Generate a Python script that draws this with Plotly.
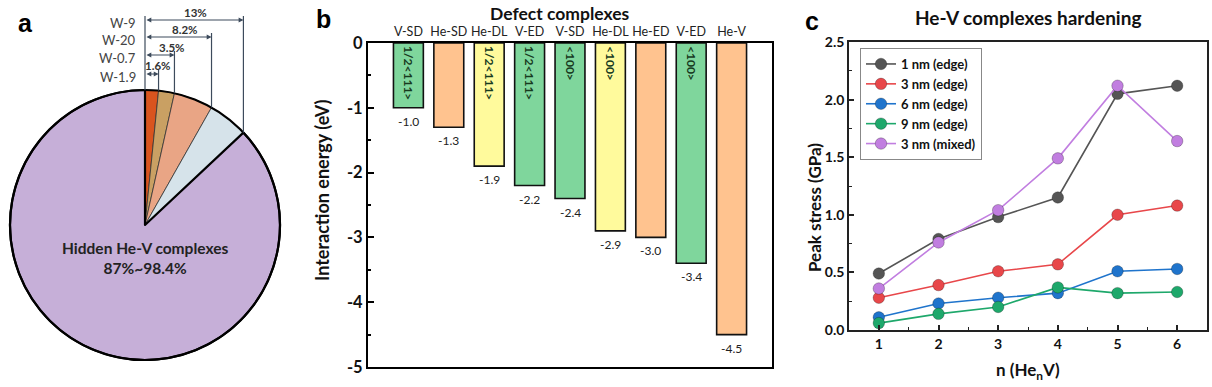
import math
import plotly.graph_objects as go

# ---------------- DATA ----------------
# panel a
samples = ["W-1.9", "W-0.7", "W-20", "W-9"]
cum_pct = [1.6, 3.5, 8.2, 13.0]
cum_labels = ["1.6%", "3.5%", "8.2%", "13%"]
hidden_label = "Hidden He-V complexes"
hidden_range = "87%~98.4%"

# panel b
complexes = ["V-SD", "He-SD", "He-DL", "V-ED", "V-SD", "He-DL", "He-ED", "V-ED", "He-V"]
energies = [-1.0, -1.3, -1.9, -2.2, -2.4, -2.9, -3.0, -3.4, -4.5]
burgers = ["1/2<111>", "", "1/2<111>", "1/2<111>", "<100>", "<100>", "", "<100>", ""]
energy_ticks = [0, -1, -2, -3, -4, -5]

# panel c
n_he = [1, 2, 3, 4, 5, 6]
s_1nm_edge = [0.49, 0.79, 0.98, 1.15, 2.05, 2.12]
s_3nm_edge = [0.28, 0.39, 0.51, 0.57, 1.00, 1.08]
s_6nm_edge = [0.11, 0.23, 0.28, 0.32, 0.51, 0.53]
s_9nm_edge = [0.06, 0.14, 0.20, 0.37, 0.32, 0.33]
s_3nm_mixed = [0.36, 0.76, 1.04, 1.49, 2.12, 1.64]
series_names = ["1 nm (edge)", "3 nm (edge)", "6 nm (edge)", "9 nm (edge)", "3 nm (mixed)"]
stress_ticks = [0.0, 0.5, 1.0, 1.5, 2.0, 2.5]

# ---------------- STYLE ----------------
W, H = 1212, 387
def PX(x): return x / W
def PY(y): return 1 - y / H

FONT = "Lato"
pie_colors = ["#d9541e", "#c9a063", "#e9a585", "#d6e3ea", "#c6afd8"]
bar_color_map = {"V-SD": "#7fd69c", "V-ED": "#7fd69c", "He-DL": "#fffa9c",
                 "He-SD": "#ffc38f", "He-ED": "#ffc38f", "He-V": "#ffc38f"}
series_colors = ["#555555", "#e8474a", "#1f74cc", "#1ea86b", "#c17ee0"]
arrow_col = "#3d4b5c"

fig = go.Figure()

# ---------------- PANEL A ----------------
cx, cy, r = 145, 225, 135
slice_vals = [cum_pct[0]] + [cum_pct[i] - cum_pct[i - 1] for i in range(1, len(cum_pct))]
slice_vals.append(100 - cum_pct[-1])
fig.add_trace(go.Pie(
    values=slice_vals, labels=samples + ["Hidden He-V"], sort=False,
    direction="clockwise", rotation=0, textinfo="none", textposition="none",
    showlegend=False, automargin=False,
    marker=dict(colors=pie_colors,
                line=dict(color=["#333"] * 4 + ["#000"], width=[0.8] * 4 + [2.2])),
    domain=dict(x=[PX(cx - r), PX(cx + r)], y=[PY(cy + r), PY(cy - r)]),
))

shapes = []
annotations = []
shapes.append(dict(type="circle", xref="paper", yref="paper",
                   x0=PX(cx - r), x1=PX(cx + r), y0=PY(cy + r), y1=PY(cy - r),
                   line=dict(color="#000", width=2.2)))

arrow_rows = [74, 55, 37, 20]   # pixel rows of the dimension arrows
label_cx = [158, 172, 185, 195]
shapes.append(dict(type="line", xref="paper", yref="paper",
                   x0=PX(cx), x1=PX(cx), y0=PY(min(arrow_rows) - 4), y1=PY(cy - r),
                   line=dict(color=arrow_col, width=1.2)))
for i, f in enumerate(cum_pct):
    th = 2 * math.pi * f / 100
    xe = cx + r * math.sin(th)
    ye = cy - r * math.cos(th)
    ay = arrow_rows[i]
    shapes.append(dict(type="line", xref="paper", yref="paper",
                       x0=PX(xe), x1=PX(xe), y0=PY(ay - 4), y1=PY(ye),
                       line=dict(color=arrow_col, width=1.2)))
    annotations.append(dict(x=PX(xe), y=PY(ay), xref="paper", yref="paper", text="",
                            showarrow=True, ax=cx - xe, ay=0, arrowside="end+start",
                            arrowhead=2, startarrowhead=2, arrowsize=0.8, startarrowsize=0.8,
                            arrowwidth=1.2, arrowcolor=arrow_col, standoff=0, startstandoff=0))
    annotations.append(dict(x=PX(label_cx[i]), y=PY(ay - 8), xref="paper", yref="paper",
                            text="<b>%s</b>" % cum_labels[i], showarrow=False,
                            font=dict(family=FONT, size=11.5, color="#333"),
                            xanchor="center", yanchor="middle"))
    annotations.append(dict(x=PX(138), y=PY(ay + 3), xref="paper", yref="paper",
                            text=samples[i], showarrow=False,
                            font=dict(family=FONT, size=13, color="#444"),
                            xanchor="right", yanchor="middle"))

annotations.append(dict(x=PX(cx), y=PY(258), xref="paper", yref="paper",
                        text="<b>%s</b><br><b>%s</b>" % (hidden_label, hidden_range),
                        showarrow=False, font=dict(family=FONT, size=15.5, color="#222"),
                        xanchor="center", yanchor="middle"))

# ---------------- PANEL B ----------------
xs = list(range(len(complexes)))
inside = [b.replace("<", "&lt;").replace(">", "&gt;") for b in burgers]
fig.add_trace(go.Bar(
    x=xs, y=energies, width=0.74, xaxis="x", yaxis="y", showlegend=False,
    marker=dict(color=[bar_color_map[c] for c in complexes], line=dict(color="#111", width=1.6)),
    text=["<b>%s</b>" % t if t else "" for t in inside],
    textposition="inside", insidetextanchor="start", textangle=90,
    textfont=dict(family=FONT, size=12, color="#173a1e"),
))
for x, v in zip(xs, energies):
    annotations.append(dict(x=x, y=v, xref="x", yref="y", text="%.1f" % v,
                            showarrow=False, yanchor="top", yshift=-4, xanchor="center",
                            font=dict(family=FONT, size=12, color="#222")))

# ---------------- PANEL C ----------------
for name, vals, col in zip(series_names,
                           [s_1nm_edge, s_3nm_edge, s_6nm_edge, s_9nm_edge, s_3nm_mixed],
                           series_colors):
    fig.add_trace(go.Scatter(
        x=n_he, y=vals, name="<b>%s</b>" % name, mode="lines+markers", xaxis="x2", yaxis="y2",
        line=dict(color=col, width=1.6),
        marker=dict(color=col, size=11.5, line=dict(color="rgba(0,0,0,0.25)", width=1)),
    ))

# panel letters and titles
for t, x, y in [("a", 25, 23), ("b", 323, 19), ("c", 812, 21)]:
    annotations.append(dict(x=PX(x), y=PY(y), xref="paper", yref="paper", text="<b>%s</b>" % t,
                            showarrow=False, font=dict(family="Liberation Sans", size=25, color="#000"),
                            xanchor="center", yanchor="middle"))
annotations.append(dict(x=PX(560), y=PY(13), xref="paper", yref="paper",
                        text="<b>Defect complexes</b>", showarrow=False, xanchor="center",
                        font=dict(family=FONT, size=17.5, color="#111"), yanchor="middle"))
annotations.append(dict(x=PX(1028), y=PY(17), xref="paper", yref="paper",
                        text="<b>He-V complexes hardening</b>", showarrow=False, xanchor="center",
                        font=dict(family=FONT, size=19, color="#111"), yanchor="middle"))
annotations.append(dict(x=PX(322), y=PY(190), xref="paper", yref="paper",
                        text="<b>Interaction energy (eV)</b>", showarrow=False, textangle=-90,
                        font=dict(family=FONT, size=18, color="#111"), xanchor="center", yanchor="middle"))
annotations.append(dict(x=PX(814), y=PY(208), xref="paper", yref="paper",
                        text="<b>Peak stress (GPa)</b>", showarrow=False, textangle=-90,
                        font=dict(family=FONT, size=17, color="#111"), xanchor="center", yanchor="middle"))
annotations.append(dict(x=PX(1028), y=PY(371), xref="paper", yref="paper",
                        text="<b>n (He<sub>n</sub>V)</b>", showarrow=False,
                        font=dict(family=FONT, size=17, color="#111"), xanchor="center", yanchor="middle"))

fig.update_layout(
    width=W, height=H, margin=dict(l=0, r=0, t=0, b=0, pad=0, autoexpand=False),
    paper_bgcolor="white", plot_bgcolor="white",
    font=dict(family=FONT, color="#111"),
    barmode="overlay",
    shapes=shapes, annotations=annotations,
    xaxis=dict(domain=[PX(368), PX(772)], range=[-1, 9], side="top", automargin=False,
               tickmode="array", tickvals=xs, ticktext=complexes, ticks="",
               tickfont=dict(family=FONT, size=12.5, color="#222"),
               showline=True, linecolor="#000", linewidth=2, mirror=True,
               showgrid=False, zeroline=False, anchor="y"),
    yaxis=dict(domain=[PY(367), PY(43)], range=[-5, 0], automargin=False,
               tickmode="array", tickvals=energy_ticks,
               ticktext=["<b>%d</b>" % t for t in energy_ticks],
               ticks="inside", ticklen=6, tickwidth=2, tickcolor="#000",
               minor=dict(ticks="inside", ticklen=3, tickwidth=1.5, tickcolor="#000", dtick=0.5),
               tickfont=dict(family=FONT, size=16.5, color="#111"),
               showline=True, linecolor="#000", linewidth=2, mirror=True,
               showgrid=False, zeroline=False, anchor="x"),
    xaxis2=dict(domain=[PX(849), PX(1207)], range=[0.5, 6.5], automargin=False,
                tickmode="array", tickvals=n_he, ticktext=["<b>%d</b>" % n for n in n_he],
                ticks="inside", ticklen=5, tickwidth=1.5, tickcolor="#222",
                minor=dict(ticks="inside", ticklen=3, tickwidth=1, tickcolor="#222", dtick=0.5, tick0=0.5),
                tickfont=dict(family=FONT, size=14, color="#111"),
                showline=True, linecolor="#222", linewidth=1.6, mirror=True,
                showgrid=False, zeroline=False, anchor="y2"),
    yaxis2=dict(domain=[PY(330), PY(42)], range=[0, 2.5], automargin=False,
                tickmode="array", tickvals=stress_ticks,
                ticktext=["<b>%.1f</b>" % t for t in stress_ticks],
                ticks="inside", ticklen=5, tickwidth=1.5, tickcolor="#222",
                minor=dict(ticks="inside", ticklen=3, tickwidth=1, tickcolor="#222", dtick=0.25, tick0=0),
                tickfont=dict(family=FONT, size=14, color="#111"),
                showline=True, linecolor="#222", linewidth=1.6, mirror=True,
                showgrid=False, zeroline=False, anchor="x2"),
    legend=dict(x=PX(860), y=PY(48), xanchor="left", yanchor="top",
                bgcolor="white", bordercolor="#888", borderwidth=1,
                font=dict(family=FONT, size=13, color="#111"),
                tracegroupgap=0, itemwidth=30),
)
fig.update_traces(cliponaxis=False, selector=dict(type="bar"))
fig.write_html("out.html", config={"displayModeBar": False},
               post_script="document.body.style.margin='0';")
